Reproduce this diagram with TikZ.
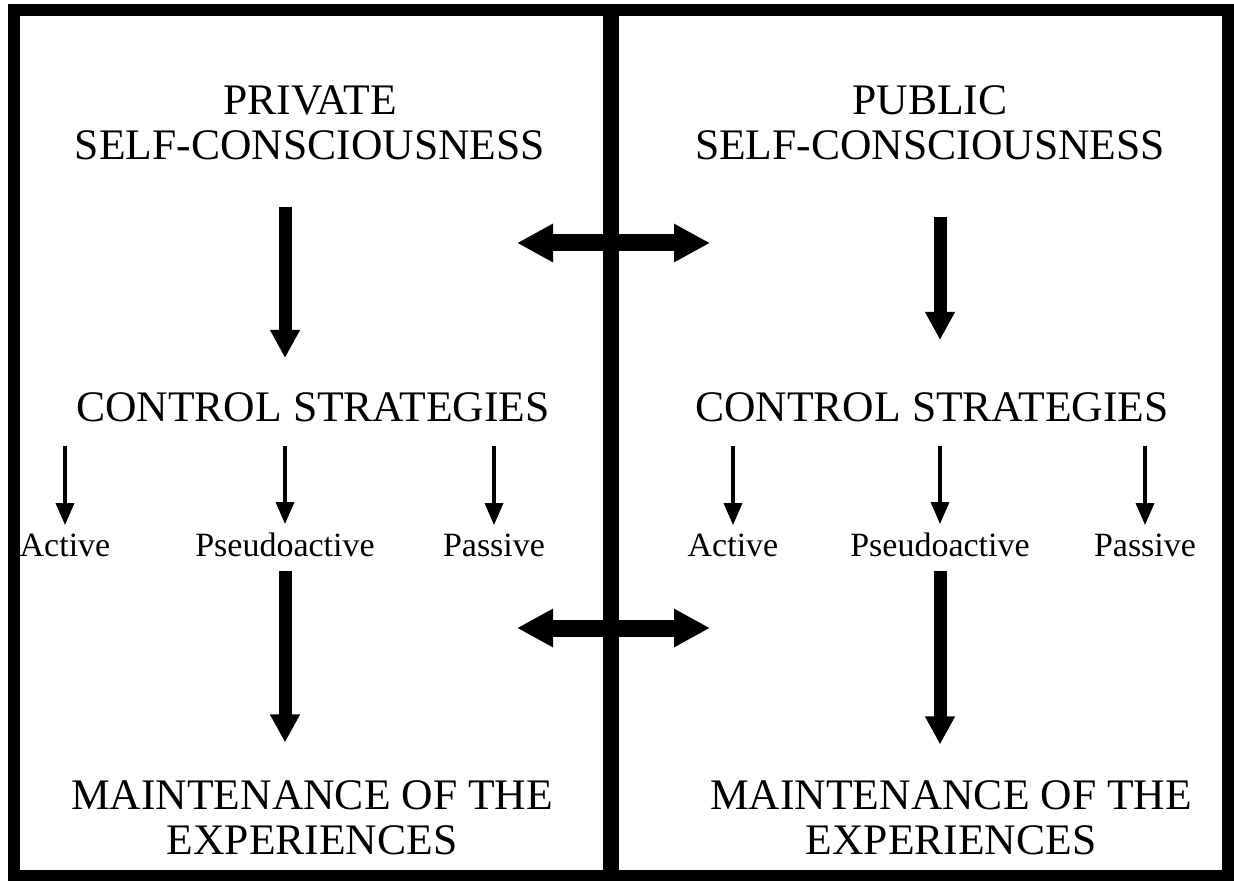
\documentclass[tikz,border=0pt]{standalone}
\usepackage{fontspec}
\setmainfont{Liberation Serif}
\usetikzlibrary{arrows.meta}

\begin{document}
\begin{tikzpicture}[x=0.5pt,y=-0.5pt,
  heading/.style={align=center,inner sep=0pt,font=\fontsize{21.8}{22.5}\selectfont},
  label/.style={inner sep=0pt,anchor=base,font=\fontsize{17}{20}\selectfont},
  bigarrow/.style={line width=6.5pt,-{Triangle[length=14pt,width=14pt]}},
  smallarrow/.style={line width=1.75pt,-{Triangle[length=11pt,width=9pt]}},
  dblarrow/.style={line width=8.5pt,{Triangle[length=18pt,width=18pt]}-{Triangle[length=18pt,width=18pt]}},
  frame/.style={line width=6pt},
  divider/.style={line width=8pt}]
\useasboundingbox (0,0) rectangle (1234,881);

% outer frame and the bar that divides the two halves
\draw[frame] (14,10) rectangle (1228,876);
\draw[divider] (611,10) -- (611,876);

% left half
\node[heading] (privh) at (310,123) {PRIVATE\\SELF-CONSCIOUSNESS};
\node[heading] (csl) at (313,407) {CONTROL STRATEGIES};
\node[label] (actl) at (65,556) {Active};
\node[label] (pseul) at (285,556) {Pseudoactive};
\node[label] (passl) at (494,556) {Passive};
\node[heading] (maintl) at (312,818) {MAINTENANCE OF THE\\EXPERIENCES};

% right half
\node[heading] (publh) at (930,123) {PUBLIC\\SELF-CONSCIOUSNESS};
\node[heading] (csr) at (932,407) {CONTROL STRATEGIES};
\node[label] (actr) at (733,556) {Active};
\node[label] (pseur) at (940,556) {Pseudoactive};
\node[label] (passr) at (1145,556) {Passive};
\node[heading] (maintr) at (951,818) {MAINTENANCE OF THE\\EXPERIENCES};

% main vertical flow
\draw[bigarrow,shorten <=23pt,shorten >=17pt] (privh.south -| pseul) -- (csl.north -| pseul);
\draw[bigarrow,shorten <=28pt,shorten >=26pt] (publh.south -| pseur) -- (csr.north -| pseur);
\draw[bigarrow,shorten <=7pt,shorten >=19pt] (pseul.south) -- (maintl.north -| pseul);
\draw[bigarrow,shorten <=7pt,shorten >=18pt] (pseur.south) -- (maintr.north -| pseur);

% strategy branches
\foreach \s/\t in {csl/actl,csl/pseul,csl/passl,csr/actr,csr/pseur,csr/passr}
  \draw[smallarrow,shorten <=12pt,shorten >=4pt] (\s.south -| \t) -- (\t.north);

% links between the two halves
\coordinate (lnkAl) at (517,243);
\coordinate (lnkAr) at (710,243);
\coordinate (lnkBl) at (517,628);
\coordinate (lnkBr) at (710,628);
\draw[dblarrow] (lnkAl) -- (lnkAr);
\draw[dblarrow] (lnkBl) -- (lnkBr);
\end{tikzpicture}
\end{document}
